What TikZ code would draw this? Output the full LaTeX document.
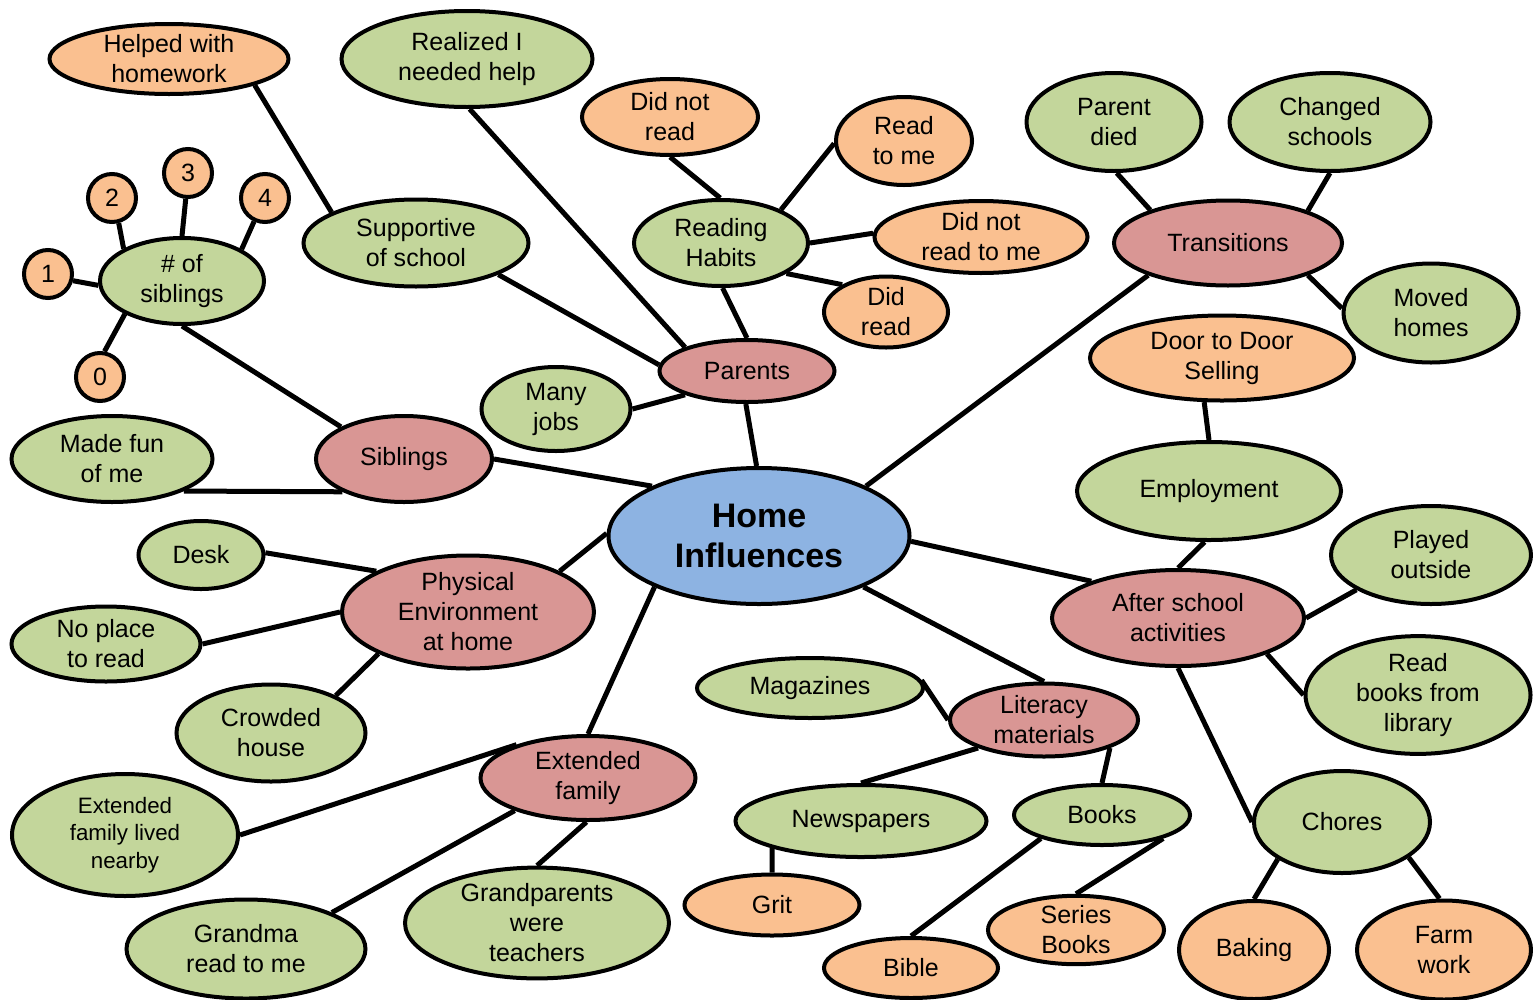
\documentclass[tikz,border=0pt]{standalone}
\usepackage{fontspec}
\setmainfont{Liberation Sans}
\usetikzlibrary{shapes.geometric,backgrounds}
\definecolor{leaf}{HTML}{C3D69B}
\definecolor{peach}{HTML}{FAC090}
\definecolor{rose}{HTML}{D99694}
\definecolor{sky}{HTML}{8DB3E2}
\tikzset{
  bubble/.style={ellipse,draw=black,line width=4pt,inner sep=0pt,align=center,
    font=\fontsize{25}{30}\selectfont},
  gn/.style={bubble,fill=leaf},
  on/.style={bubble,fill=peach},
  pn/.style={bubble,fill=rose},
  num/.style={circle,draw=black,line width=4pt,fill=peach,inner sep=0pt,
    minimum size=48pt,font=\fontsize{25}{30}\selectfont},
  link/.style={line width=5pt,draw=black},
}
\begin{document}
\begin{tikzpicture}[x=1pt,y=-1pt]
\useasboundingbox (0,0) rectangle (1533,999);

% centre
\node[bubble,fill=sky,minimum width=301,minimum height=136,
  font=\fontsize{34}{40}\selectfont\bfseries] (home) at (759,536) {Home\\Influences};

% parents branch
\node[pn,minimum width=175,minimum height=62] (parents) at (747,371) {Parents};
\node[gn,minimum width=174,minimum height=86] (reading) at (721,243) {Reading\\Habits};
\node[on,minimum width=176,minimum height=76] (didnotread) at (670,117) {Did not\\read};
\node[on,minimum width=136,minimum height=88] (readtome) at (904,141) {Read\\to me};
\node[on,minimum width=213,minimum height=72] (didnotreadtome) at (981,237) {Did not\\read to me};
\node[on,minimum width=124,minimum height=71] (didread) at (886,312) {Did\\read};
\node[gn,minimum width=251,minimum height=96] (realized) at (467,59) {Realized I\\needed help};
\node[gn,minimum width=225,minimum height=87] (supportive) at (416,243) {Supportive\\of school};
\node[on,minimum width=239,minimum height=70] (helped) at (169,59) {Helped with\\homework};
\node[gn,minimum width=149,minimum height=84] (manyjobs) at (556,409) {Many\\jobs};

% siblings branch
\node[pn,minimum width=176,minimum height=86] (siblings) at (404,459) {Siblings};
\node[gn,minimum width=164,minimum height=86] (nsib) at (182,281) {\# of\\siblings};
\node[gn,minimum width=201,minimum height=86] (madefun) at (112,459) {Made fun\\of me};
\node[num] (c1) at (48,274) {1};
\node[num] (c2) at (112,198) {2};
\node[num] (c3) at (188,173) {3};
\node[num] (c4) at (265,198) {4};
\node[num] (c0) at (100,377) {0};

% physical environment branch
\node[pn,minimum width=252,minimum height=113] (physical) at (468,612) {Physical\\Environment\\at home};
\node[gn,minimum width=125,minimum height=68] (desk) at (201,555) {Desk};
\node[gn,minimum width=189,minimum height=75] (noplace) at (106,644) {No place\\to read};
\node[gn,minimum width=189,minimum height=97] (crowded) at (271,733) {Crowded\\house};

% extended family branch
\node[pn,minimum width=215,minimum height=84] (extended) at (588,778) {Extended\\family};
\node[gn,minimum width=226,minimum height=122,font=\fontsize{22.3}{27.5}\selectfont]
  (nearby) at (125,835) {Extended\\family lived\\nearby};
\node[gn,minimum width=239,minimum height=99] (grandma) at (246,949) {Grandma\\read to me};
\node[gn,minimum width=264,minimum height=104] (grandparents) at (537,923) {Grandparents\\were\\teachers};

% literacy materials branch
\node[pn,minimum width=188,minimum height=73] (literacy) at (1044,720) {Literacy\\materials};
\node[gn,minimum width=226,minimum height=60] (magazines) at (810,688) {Magazines};
\node[gn,minimum width=251,minimum height=72] (newspapers) at (861,821) {Newspapers};
\node[on,minimum width=175,minimum height=61] (grit) at (772,905) {Grit};
\node[gn,minimum width=176,minimum height=60] (books) at (1102,815) {Books};
\node[on,minimum width=174,minimum height=60] (bible) at (911,968) {Bible};
\node[on,minimum width=176,minimum height=64] (series) at (1076,930) {Series\\Books};

% after school branch
\node[pn,minimum width=252,minimum height=96] (after) at (1178,618) {After school\\activities};
\node[gn,minimum width=264,minimum height=98] (employment) at (1209,491) {Employment};
\node[on,minimum width=264,minimum height=85] (door) at (1222,358) {Door to Door\\Selling};
\node[gn,minimum width=200,minimum height=98] (played) at (1431,555) {Played\\outside};
\node[gn,minimum width=225,minimum height=97] (library) at (1418,695) {Read\\books from\\library};
\node[gn,minimum width=176,minimum height=102] (chores) at (1342,822) {Chores};
\node[on,minimum width=150,minimum height=98] (baking) at (1254,950) {Baking};
\node[on,minimum width=174,minimum height=99] (farm) at (1444,950) {Farm\\work};

% transitions branch
\node[pn,minimum width=228,minimum height=85] (transitions) at (1228,243) {Transitions};
\node[gn,minimum width=175,minimum height=98] (parentdied) at (1114,122) {Parent\\died};
\node[gn,minimum width=201,minimum height=98] (changed) at (1330,122) {Changed\\schools};
\node[gn,minimum width=175,minimum height=99] (moved) at (1431,313) {Moved\\homes};

\begin{pgfonlayer}{background}
  % parents
  \draw[link] (home.92) -- (parents.268);
  \draw[link] (parents.90) -- (reading.272);
  \draw[link] (reading.91) -- (didnotread.270);
  \draw[link] (reading.29) -- (readtome.182);
  \draw[link] (reading.0) -- (didnotreadtome.178);
  \draw[link] (reading.335) -- (didread.148);
  \draw[link] (parents.159) -- (realized.273);
  \draw[link] (parents.176) -- (supportive.339);
  \draw[link] (supportive.160) -- (helped.343);
  \draw[link] (parents.201) -- (manyjobs.0);
  % siblings
  \draw[link] (home.155) -- (siblings.0);
  \draw[link] (siblings.153) -- (nsib.270);
  \draw[link] (siblings.208) -- (madefun.336);
  \draw[link] (nsib.183) -- (c1.345);
  \draw[link] (nsib.151) -- (c2.285);
  \draw[link] (nsib.90) -- (c3.265);
  \draw[link] (nsib.28) -- (c4.245);
  \draw[link] (nsib.210) -- (c0.80);
  % physical environment
  \draw[link] (home.179) -- (physical.24);
  \draw[link] (physical.156) -- (desk.2);
  \draw[link] (physical.180) -- (noplace.0);
  \draw[link] (physical.205) -- (crowded.30);
  % extended family
  \draw[link] (home.206) -- (extended.90);
  \draw[link] (extended.155) -- (nearby.0);
  \draw[link] (extended.204) -- (grandma.23);
  \draw[link] (extended.268) -- (grandparents.90);
  % literacy materials
  \draw[link] (home.334) -- (literacy.90);
  \draw[link] (literacy.180) -- (magazines.4);
  \draw[link] (literacy.203) -- (newspapers.90);
  \draw[link] (literacy.337) -- (books.90);
  \draw[link] (newspapers.197) -- (grit.90);
  \draw[link] (books.201) -- (bible.90);
  \draw[link] (books.339) -- (series.90);
  % after school
  \draw[link] (home.358) -- (after.157);
  \draw[link] (after.90) -- (employment.265);
  \draw[link] (employment.90) -- (door.248);
  \draw[link] (after.0) -- (played.205);
  \draw[link] (after.338) -- (library.180);
  \draw[link] (after.270) -- (chores.180);
  \draw[link] (chores.210) -- (baking.90);
  \draw[link] (chores.332) -- (farm.95);
  % transitions
  \draw[link] (home.25) -- (transitions.202);
  \draw[link] (transitions.157) -- (parentdied.273);
  \draw[link] (transitions.22) -- (changed.270);
  \draw[link] (transitions.338) -- (moved.177);
\end{pgfonlayer}
\end{tikzpicture}
\end{document}
